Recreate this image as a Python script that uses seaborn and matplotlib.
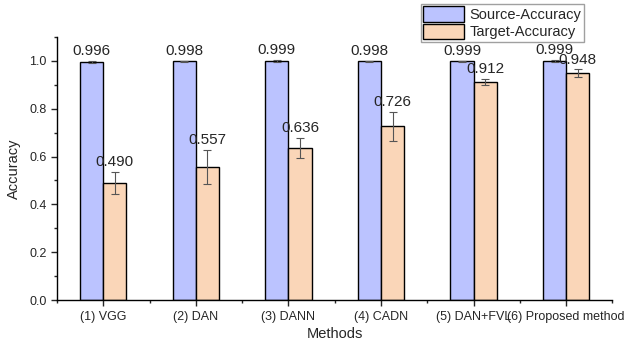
import matplotlib
matplotlib.use("Agg")
import matplotlib.pyplot as plt
from matplotlib.ticker import MultipleLocator
import numpy as np
import pandas as pd
import seaborn as sns

# ---- data ----
methods = ["(1) VGG", "(2) DAN", "(3) DANN", "(4) CADN", "(5) DAN+FVL", "(6) Proposed method"]
source_acc = [0.996, 0.998, 0.999, 0.998, 0.999, 0.999]
target_acc = [0.490, 0.557, 0.636, 0.726, 0.912, 0.948]
source_err = [0.003, 0.003, 0.003, 0.003, 0.002, 0.003]
target_err = [0.046, 0.070, 0.042, 0.061, 0.014, 0.016]
series = ["Source-Accuracy", "Target-Accuracy"]

df = pd.DataFrame({
    "method": methods * 2,
    "acc": source_acc + target_acc,
    "err": source_err + target_err,
    "series": [series[0]] * len(methods) + [series[1]] * len(methods),
})

sns.set_style("ticks")
plt.rcParams["font.family"] = ["Liberation Sans", "DejaVu Sans"]

fig = plt.figure(figsize=(6.37, 3.45), dpi=100)
ax = fig.add_axes([0.0895, 0.130, 0.872, 0.763])

sns.barplot(data=df, x="method", y="acc", hue="series", order=methods, hue_order=series,
            palette=["#BBC3FF", "#FAD6B8"], saturation=1, width=0.5, edgecolor="black",
            linewidth=1.0, errorbar=None, ax=ax)

# error bars and value labels per container
for cont, vals, errs in zip(ax.containers, [source_acc, target_acc], [source_err, target_err]):
    xs = [p.get_x() + p.get_width() / 2 for p in cont.patches]
    ax.errorbar(xs, vals, yerr=errs, fmt="none", ecolor="#555555", elinewidth=0.8,
                capsize=3, capthick=0.8)
    for x, v, e in zip(xs, vals, errs):
        ax.text(x, v + e + 0.012, f"{v:.3f}", ha="center", va="bottom", fontsize=11)

ax.set_xlim(-0.5, len(methods) - 0.5)
ax.set_ylim(0, 1.1)
ax.yaxis.set_minor_locator(MultipleLocator(0.1))
ax.set_xticks(np.arange(-0.5, len(methods), 1.0), minor=True)
ax.tick_params(axis="both", which="major", labelsize=9, length=4, width=1)
ax.tick_params(axis="both", which="minor", length=2.5, width=1)
yt = np.arange(0, 1.01, 0.2)
ax.set_yticks(yt)
ax.set_yticklabels([f"{t:.1f}" for t in yt])

ax.set_xlabel("Methods", fontsize=10.5, labelpad=3)
ax.set_ylabel("Accuracy", fontsize=10.5, labelpad=6)
sns.despine(ax=ax)
for s in ["left", "bottom"]:
    ax.spines[s].set_linewidth(1.0)
    ax.spines[s].set_color("black")

leg = ax.legend(loc="upper right", bbox_to_anchor=(0.948, 1.125), fontsize=10.5, frameon=True,
                fancybox=False, edgecolor="#888888", handlelength=2.8, handleheight=1.3,
                borderpad=0.15, labelspacing=0.1, handletextpad=0.4, borderaxespad=0)
leg.get_frame().set_linewidth(1.0)

fig.savefig("out.png", dpi=100)
